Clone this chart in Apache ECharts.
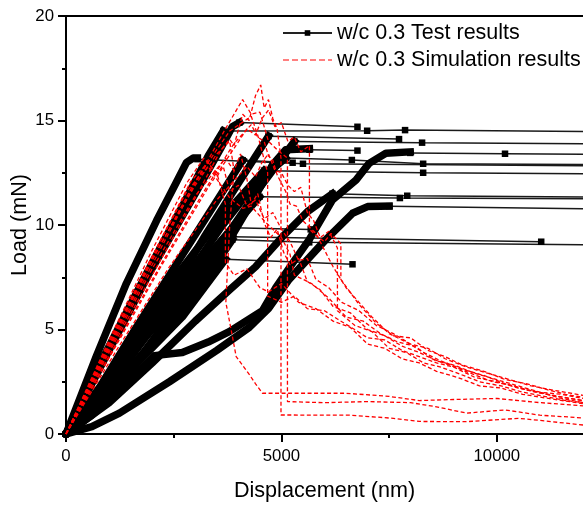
<!DOCTYPE html>
<html><head><meta charset="utf-8">
<script src="https://cdn.jsdelivr.net/npm/echarts@6/dist/echarts.min.js"></script>
<style>html,body{margin:0;padding:0;background:#fff}#c{width:583px;height:506px}</style>
</head><body><div id="c"></div>
<script>
const TEST = 'w/c 0.3 Test results';
const SIM = 'w/c 0.3 Simulation results';
const xMajorTicks = [0, 5000, 10000];
const xMinorTicks = [2500, 7500];
const yTicks = [0, 5, 10, 15, 20];

// Test results: loading part (dense markers) and post-peak tail (sparse markers)
const loadA = [[0,0],[700,3.7],[1400,7.2],[2100,10.2],[2550,12.0],[2800,13.0],[2950,13.2],[3050,13.2]];
const tailA = [[3050,13.15],[5500,12.93],[12000,12.83]];
const loadB = [[0,0],[1000,4.0],[1935,7.7],[3000,11.5],[3600,13.7],[3860,14.7],[4025,14.9]];
const tailB = [[4025,14.9],[6765,14.70]];
const loadC = [[0,0],[900,3.8],[1800,7.4],[2700,10.9],[3300,13.3],[3650,14.5]];
const tailC = [[3650,14.5],[6990,14.51],[7870,14.54],[12000,14.47]];
const loadD = [[0,0],[800,1.8],[1600,4.0],[2400,6.6],[3200,9.4],[4000,12.0],[4700,14.25]];
const tailD = [[4700,14.25],[7730,14.11]];
const loadE = [[0,0],[900,1.7],[1800,3.9],[2700,6.4],[3600,9.1],[4500,11.8],[5300,14.0]];
const tailE = [[5300,14.0],[8265,13.94],[12000,13.89]];
const loadF = [[0,0],[1000,1.9],[2000,4.2],[3000,6.9],[3800,9.3],[4400,11.4],[4800,12.9],[5100,13.6],[5650,13.65]];
const tailF = [[5650,13.6],[6765,13.56]];
const loadG = [[0,0],[600,0.9],[1200,2.0],[1700,3.0],[2050,3.75],[2700,3.9],[3300,4.4],[3790,4.9],[4560,5.9],[4870,7.0],[5300,8.3],[5645,9.3],[6185,11.2],[6730,12.15],[7035,12.95],[7425,13.43],[7990,13.5]];
const tailG = [[7990,13.45],[10190,13.41],[12000,13.38]];
const loadH = [[0,0],[600,0.35],[1240,1.0],[2400,2.5],[3500,4.0],[4255,5.1],[4700,6.0],[5180,7.4],[6030,9.3],[6650,10.56],[7000,10.88],[7500,10.9]];
const tailH = [[7500,10.9],[12000,10.78]];
const loadI = [[0,0],[1000,1.5],[2000,3.4],[3000,5.4],[3800,6.9],[4400,8.0],[5025,9.44],[5605,10.64],[6185,11.5]];
const tailI = [[6185,11.5],[7920,11.40],[12000,11.34]];
const loadJ = [[0,0],[800,1.9],[1600,4.1],[2500,6.6],[3500,9.0],[4490,11.35]];
const tailJ = [[4490,11.35],[7750,11.29],[12000,11.26]];
const loadK = [[0,0],[900,1.8],[1800,3.7],[2700,5.6],[3700,8.36]];
const tailK = [[3700,8.36],[6650,8.12]];
const loadL = [[0,0],[700,1.8],[1500,4.0],[2300,6.0],[3100,8.0],[3860,9.87]];
const tailL = [[3860,9.87],[5680,9.79]];
const loadM = [[0,0],[900,2.0],[1800,4.5],[2700,7.2],[3600,9.9],[4400,12.0],[5100,13.2]];
const tailM = [[5100,13.2],[6635,13.11],[8290,12.93],[12000,12.9]];
const loadN = [[0,0],[800,2.1],[1600,4.6],[2500,7.4],[3500,10.1],[4600,12.6]];
const tailN = [[4600,12.6],[8290,12.50],[12000,12.45]];
const loadO = [[0,0],[800,2.3],[1600,5.0],[2400,7.6],[3300,10.5],[4100,13.1]];
const tailO = [[4100,13.1],[5260,12.98]];
const loadP = [[0,0],[800,1.6],[1600,3.4],[2400,5.3],[3200,7.3],[3860,9.3]];
const tailP = [[3860,9.3],[5645,9.17],[12000,9.06]];
const loadQ = [[0,0],[1000,2.6],[2000,5.0],[3000,7.3],[3860,9.44]];
const tailQ = [[3860,9.44],[11030,9.2]];

// Simulation results
const sim1 = [[0,0],[1000,3.9],[2000,7.6],[3000,11.3],[3600,13.6],[3800,14.1],[3900,13.8],[4100,15.3],[4250,15.0],[4400,16.2],[4520,16.7],[4600,15.6],[4700,16.0],[4800,15.1],[4900,14.6],[4990,13.2],[4990,0.91],[6600,0.9],[7600,0.75],[8200,0.6],[9300,0.59],[10500,0.75],[11000,0.65],[12000,0.43]];
const sim2 = [[0,0],[1000,4.1],[2000,8.1],[3000,12.0],[3700,14.6],[4100,16.0],[4300,15.3],[4500,15.4],[4700,14.0],[4900,13.6],[5140,13.2],[5140,1.55],[6000,1.5],[7000,1.55],[8000,1.5],[8600,1.3],[9300,1.0],[10200,1.15],[11000,0.9],[12000,0.77]];
const sim3 = [[0,0],[1100,4.0],[2200,8.0],[3300,11.8],[4200,14.6],[4400,14.3],[4550,15.1],[4700,15.5],[4850,14.7],[5000,14.9],[5150,14.0],[5300,14.2],[5450,13.5],[5650,13.8],[5650,9.8],[5800,9.5],[6000,9.2],[6150,9.6],[6380,9.1],[6380,7.4],[6800,6.2],[7200,5.3],[7600,4.7],[8000,4.6],[8400,4.0],[8800,3.7],[9200,3.3],[9700,3.0],[10200,2.6],[10700,2.4],[11200,2.1],[11600,1.9],[12000,1.75]];
const sim4 = [[0,0],[1000,4.2],[2000,8.3],[3000,12.1],[3800,14.5],[4300,15.2],[4450,14.3],[4680,12.5],[4680,6.6],[5000,6.3],[5300,6.6],[5600,6.0],[6000,5.9],[6300,5.5],[6700,5.0],[7000,4.6],[7400,4.5],[7800,4.0],[8200,3.7],[8600,3.4],[9000,3.2],[9500,2.7],[10000,2.5],[10500,2.2],[11000,2.0],[11500,1.7],[12000,1.5]];
const sim5 = [[0,0],[1000,4.3],[2000,8.4],[3000,11.9],[3500,13.4],[3800,14.0],[3900,12.6],[3800,10.0],[3710,6.3],[3850,4.8],[3950,3.7],[4270,2.8],[4400,2.4],[4560,1.95],[5500,1.95],[6500,1.95],[7500,1.8],[8200,1.6],[9000,1.65],[10000,1.7],[11000,1.5],[12000,1.35]];
const sim6 = [[0,0],[1000,4.4],[2000,8.5],[2800,11.6],[3300,12.8],[3500,12.2],[3800,11.3],[4100,10.8],[4300,10.9],[4600,10.2],[5000,9.4],[5200,8.6],[5300,7.6],[5700,7.2],[6100,6.5],[6500,5.6],[6900,5.4],[7300,4.8],[7700,4.4],[8100,4.2],[8500,3.6],[8900,3.3],[9400,2.9],[9900,2.5],[10400,2.3],[10900,2.0],[11400,1.8],[12000,1.6]];
const sim7 = [[0,0],[1200,4.1],[2400,8.0],[3500,11.2],[4200,12.8],[4400,12.3],[4550,13.0],[4700,13.4],[4850,12.6],[5000,12.5],[5150,11.9],[5300,11.6],[5450,11.8],[5600,10.6],[5750,10.2],[5900,9.4],[6100,9.7],[6300,8.9],[6300,5.9],[6700,5.2],[7100,4.9],[7500,4.1],[7900,3.9],[8300,3.4],[8700,3.2],[9100,2.9],[9600,2.5],[10100,2.3],[10600,2.0],[11100,1.8],[11600,1.6],[12000,1.5]];
const sim8 = [[0,0],[1000,4.5],[2000,8.8],[2800,12.0],[3200,13.2],[3500,12.5],[3700,11.0],[3700,8.2],[3900,7.6],[4200,7.9],[4500,7.0],[4700,6.8],[5000,7.2],[5400,6.3],[5800,6.0],[6200,5.4],[6600,5.1],[7000,4.3],[7400,4.1],[7800,3.6],[8200,3.4],[8600,3.0],[9100,2.7],[9600,2.3],[10100,2.2],[10600,1.9],[11200,1.7],[12000,1.45]];
const sim9 = [[0,0],[1100,4.1],[2200,8.1],[3200,11.6],[3900,13.9],[4300,14.8],[4450,14.2],[4600,14.0],[4700,13.3],[4800,13.1],[4900,12.4],[5000,12.0],[5100,11.6],[5200,11.0],[5350,10.9],[5500,10.2],[5800,9.6],[6000,8.8],[6200,8.0],[6500,7.0],[6800,6.3],[7100,5.6],[7500,4.8],[7900,4.4],[8300,3.9],[8700,3.5],[9200,3.1],[9700,2.8],[10200,2.4],[10700,2.1],[11200,1.9],[11700,1.7],[12000,1.6]];
const sim10 = [[0,0],[1100,4.6],[2100,8.9],[2900,12.1],[3300,13.0],[3500,12.3],[3650,12.8],[3800,11.6],[4000,11.9],[4200,10.9],[4400,11.2],[4600,10.3],[4800,10.6],[5000,9.8],[5200,9.2],[5400,8.3],[5600,8.4],[5800,7.4],[6100,7.0],[6400,6.3],[6800,5.9],[7200,5.2],[7600,4.8],[8000,4.3],[8400,4.1],[8800,3.6],[9300,3.2],[9800,2.9],[10300,2.6],[10800,2.3],[11300,2.1],[12000,1.85]];
const sim11 = [[0,0],[1000,4.0],[2000,7.9],[3000,11.4],[3700,13.2],[3900,12.6],[4050,13.4],[4200,12.2],[4300,11.0],[4450,11.5],[4600,10.1],[4750,9.4],[4900,9.8],[5050,8.7],[5200,8.1],[5400,8.4],[5600,7.3],[5900,6.9],[6200,6.1],[6600,5.8],[7000,5.0],[7400,4.7],[7800,4.2],[8200,3.9],[8600,3.5],[9000,3.3],[9500,2.9],[10000,2.6],[10500,2.3],[11000,2.0],[11500,1.9],[12000,1.7]];

const specimens = [[loadA,tailA],[loadB,tailB],[loadC,tailC],[loadD,tailD],[loadE,tailE],[loadF,tailF],[loadG,tailG],[loadH,tailH],[loadI,tailI],[loadJ,tailJ],[loadK,tailK],[loadL,tailL],[loadM,tailM],[loadN,tailN],[loadO,tailO],[loadP,tailP],[loadQ,tailQ]];
const sims = [sim1,sim2,sim3,sim4,sim5,sim6,sim7,sim8,sim9,sim10,sim11];

const X_MAX = 12000;
const series = [];
specimens.forEach(function (s) {
  series.push({
    name: TEST, type: 'line', z: 2,
    data: s[1].map(function (p) { return p[0] >= X_MAX ? {value: p, symbol: 'none'} : p; }),
    symbol: 'rect', symbolSize: 6.5, showSymbol: true,
    itemStyle: {color: '#000'},
    lineStyle: {color: '#1a1a1a', width: 1.5},
    emphasis: {disabled: true}, silent: true
  });
});
specimens.forEach(function (s) {
  series.push({
    name: TEST, type: 'line', z: 2,
    data: s[0], symbol: 'none',
    lineStyle: {color: '#000', width: 7.5, cap: 'square', join: 'round'},
    emphasis: {disabled: true}, silent: true
  });
});
sims.forEach(function (d) {
  series.push({
    name: SIM, type: 'line', z: 3,
    data: d, symbol: 'none',
    itemStyle: {color: '#ff0000'},
    lineStyle: {color: '#ff0000', width: 1.3, type: [4, 2.5]},
    emphasis: {disabled: true}, silent: true
  });
});

const FONT = 'Liberation Sans';
const fmt = function (v) { return String(v); };
const chart = echarts.init(document.getElementById('c'), null, {renderer: 'canvas'});
chart.setOption({
  animation: false,
  backgroundColor: '#fff',
  grid: {left: 66, right: 0, top: 16, bottom: 72, containLabel: false, outerBoundsMode: 'none'},
  legend: {
    orient: 'vertical', left: 282, top: 22, padding: 0,
    itemWidth: 49, itemHeight: 7, itemGap: 5,
    textStyle: {fontFamily: FONT, fontSize: 21.5, color: '#000'},
    data: [
      {name: TEST, lineStyle: {width: 2, color: '#222'}},
      {name: SIM, itemStyle: {opacity: 0}, lineStyle: {width: 1.2, type: [6, 3]}}
    ],
    selectedMode: false
  },
  xAxis: [{
    type: 'value', min: 0, max: X_MAX, position: 'bottom',
    name: 'Displacement (nm)', nameLocation: 'middle', nameGap: 46,
    nameTextStyle: {fontFamily: FONT, fontSize: 21.6, color: '#000'},
    axisLine: {show: true, onZero: false, lineStyle: {color: '#000', width: 2}},
    axisTick: {show: true, length: 8, lineStyle: {color: '#000', width: 2}, customValues: xMajorTicks},
    axisLabel: {fontFamily: FONT, fontSize: 16.8, color: '#000', margin: 14, customValues: xMajorTicks, formatter: fmt},
    splitLine: {show: false}
  }, {
    type: 'value', min: 0, max: X_MAX, position: 'bottom',
    axisLine: {show: false},
    axisTick: {show: true, length: 4, lineStyle: {color: '#000', width: 2}, customValues: xMinorTicks},
    axisLabel: {show: false}, splitLine: {show: false}
  }, {
    type: 'value', min: 0, max: X_MAX, position: 'top',
    axisLine: {show: true, onZero: false, lineStyle: {color: '#000', width: 2}},
    axisTick: {show: false}, axisLabel: {show: false}, splitLine: {show: false}
  }],
  yAxis: {
    type: 'value', min: yTicks[0], max: yTicks[yTicks.length - 1], interval: 5,
    name: 'Load (mN)', nameLocation: 'middle', nameGap: 35, nameMoveOverlap: false,
    nameTextStyle: {fontFamily: FONT, fontSize: 21.6, color: '#000'},
    axisLine: {show: true, onZero: false, lineStyle: {color: '#000', width: 2}},
    axisTick: {show: true, length: 8, lineStyle: {color: '#000', width: 2}},
    minorTick: {show: true, splitNumber: 2, length: 4, lineStyle: {color: '#000', width: 2}},
    axisLabel: {fontFamily: FONT, fontSize: 16.8, color: '#000', margin: 12, formatter: fmt},
    splitLine: {show: false}, minorSplitLine: {show: false}
  },
  series: series
});
</script>
</body></html>
